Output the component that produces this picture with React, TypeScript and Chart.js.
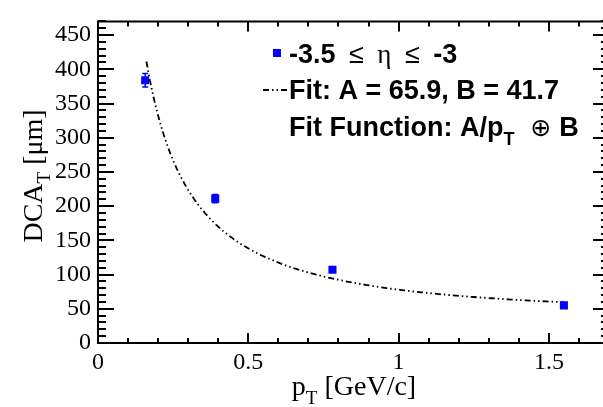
import { useEffect, useRef } from 'react';
import { Chart, registerables } from 'chart.js';

Chart.register(...registerables);

// Measured transverse DCA resolution vs pT
const pT = [0.157, 0.39, 0.78, 1.55];
const dcaT = [384, 211, 107, 55];
const dcaTErr = [10, 6, 3, 2];

// Fit parameters of A/pT (+) B, and the pT range of the fit
const fitA = 65.9;
const fitB = 41.7;
const fitRange = [0.161, 1.55];
const fitSamples = 120;

// Axis ranges and ticks
const xMin = 0;
const xMax = 1.7;
const yMin = 0;
const yMax = 470;
const xTickValues = [0, 0.5, 1, 1.5];
const xTickLabels = ['0', '0.5', '1', '1.5'];
const yTickValues = [0, 50, 100, 150, 200, 250, 300, 350, 400, 450];
const yTickLabels = ['0', '50', '100', '150', '200', '250', '300', '350', '400', '450'];
const xMinorStep = 0.1;
const yMinorStep = 10;

// Legend entries
const etaLow = '-3.5';
const etaHigh = '-3';

const SERIF = '"Liberation Serif", "Times New Roman", serif';
const SANS = '"Liberation Sans", Arial, sans-serif';
const MARKER_BLUE = '#0000ff';

const W = 619;
const H = 407;

type Seg = { t: string; font: string; dy?: number };

function drawSegs(ctx: CanvasRenderingContext2D, segs: Seg[], x: number, y: number, align: 'left' | 'center') {
  let total = 0;
  for (const s of segs) {
    ctx.font = s.font;
    total += ctx.measureText(s.t).width;
  }
  let cx = align === 'center' ? x - total / 2 : x;
  for (const s of segs) {
    ctx.font = s.font;
    ctx.fillText(s.t, cx, y + (s.dy || 0));
    cx += ctx.measureText(s.t).width;
  }
}

// A/pT (+) B : quadrature sum
function fitFn(x: number) {
  const a = fitA / x;
  return Math.sqrt(a * a + fitB * fitB);
}

const fitPoints: { x: number; y: number }[] = [];
for (let i = 0; i <= fitSamples; i++) {
  const x = fitRange[0] + ((fitRange[1] - fitRange[0]) * i) / fitSamples;
  fitPoints.push({ x, y: fitFn(x) });
}

const FIT_DASH = [6, 3, 1.5, 3, 1.5, 3];

const rootStylePlugin = {
  id: 'rootStyle',
  beforeDatasetsDraw(chart: any) {
    const ctx: CanvasRenderingContext2D = chart.ctx;
    const xs = chart.scales.x;
    const ys = chart.scales.y;
    ctx.save();
    ctx.strokeStyle = MARKER_BLUE;
    ctx.lineWidth = 1.5;
    for (let i = 0; i < pT.length; i++) {
      const px = xs.getPixelForValue(pT[i]);
      const top = ys.getPixelForValue(dcaT[i] + dcaTErr[i]);
      const bot = ys.getPixelForValue(dcaT[i] - dcaTErr[i]);
      ctx.beginPath();
      ctx.moveTo(px, top);
      ctx.lineTo(px, bot);
      ctx.moveTo(px - 3, top);
      ctx.lineTo(px + 3, top);
      ctx.moveTo(px - 3, bot);
      ctx.lineTo(px + 3, bot);
      ctx.stroke();
    }
    ctx.restore();
  },
  afterDraw(chart: any) {
    const ctx: CanvasRenderingContext2D = chart.ctx;
    const xs = chart.scales.x;
    const ys = chart.scales.y;
    const { left, right, top, bottom } = chart.chartArea;
    ctx.save();
    ctx.strokeStyle = '#000';
    ctx.lineWidth = 2;
    ctx.beginPath();
    ctx.rect(left, top, right - left, bottom - top);
    ctx.stroke();

    // ticks, pointing inward on all four sides
    ctx.beginPath();
    const nY = Math.round((yMax - yMin) / yMinorStep);
    for (let i = 0; i <= nY; i++) {
      const v = yMin + i * yMinorStep;
      const major = yTickValues.some((t) => Math.abs(t - v) < 1e-6);
      const len = major ? 16 : 8;
      const py = Math.round(ys.getPixelForValue(v));
      ctx.moveTo(left, py);
      ctx.lineTo(left + len, py);
      ctx.moveTo(right, py);
      ctx.lineTo(right - len, py);
    }
    const nX = Math.round((xMax - xMin) / xMinorStep);
    for (let i = 0; i <= nX; i++) {
      const v = xMin + i * xMinorStep;
      const major = xTickValues.some((t) => Math.abs(t - v) < 1e-6);
      const len = major ? 10 : 5;
      const px = Math.round(xs.getPixelForValue(v));
      ctx.moveTo(px, bottom);
      ctx.lineTo(px, bottom - len);
      ctx.moveTo(px, top);
      ctx.lineTo(px, top + len);
    }
    ctx.stroke();

    // axis titles
    ctx.fillStyle = '#000';
    ctx.textBaseline = 'alphabetic';
    drawSegs(
      ctx,
      [
        { t: 'p', font: `28px ${SERIF}` },
        { t: 'T', font: `19px ${SERIF}`, dy: 9 },
        { t: ' [GeV/c]', font: `28px ${SERIF}` },
      ],
      354,
      395,
      'center'
    );
    ctx.save();
    ctx.translate(42, 176);
    ctx.rotate(-Math.PI / 2);
    drawSegs(
      ctx,
      [
        { t: 'DCA', font: `28px ${SERIF}` },
        { t: 'T', font: `19px ${SERIF}`, dy: 8 },
        { t: ' [\u03bcm]', font: `28px ${SERIF}` },
      ],
      0,
      0,
      'center'
    );
    ctx.restore();

    // legend
    const lx = 289;
    const rows = [63, 99, 136];
    const bold = `bold 27px ${SANS}`;
    const reg = `27px ${SANS}`;
    ctx.fillStyle = MARKER_BLUE;
    ctx.fillRect(273, rows[0] - 14, 8, 8);
    ctx.strokeStyle = '#000';
    ctx.lineWidth = 1.8;
    ctx.setLineDash(FIT_DASH);
    ctx.beginPath();
    ctx.moveTo(263, rows[1] - 9);
    ctx.lineTo(287, rows[1] - 9);
    ctx.stroke();
    ctx.setLineDash([]);
    ctx.fillStyle = '#000';
    drawSegs(
      ctx,
      [
        { t: etaLow, font: bold },
        { t: '\u2002\u2264\u2002', font: reg },
        { t: '\u03b7', font: `27px ${SERIF}` },
        { t: '\u2002\u2264\u2002', font: reg },
        { t: etaHigh, font: bold },
      ],
      lx,
      rows[0],
      'left'
    );
    drawSegs(ctx, [{ t: `Fit: A = ${fitA.toFixed(1)}, B = ${fitB.toFixed(1)}`, font: bold }], lx, rows[1], 'left');
    drawSegs(
      ctx,
      [
        { t: 'Fit Function: A/p', font: bold },
        { t: 'T', font: `bold 18px ${SANS}`, dy: 9 },
        { t: '  \u2295 ', font: `25px "DejaVu Sans", sans-serif` },
        { t: 'B', font: bold },
      ],
      lx,
      rows[2],
      'left'
    );
    ctx.restore();
  },
};

export default function App() {
  const ref = useRef<HTMLCanvasElement | null>(null);

  useEffect(() => {
    document.body.style.margin = '0';
    const canvas = ref.current;
    if (!canvas) return;
    const chart = new Chart(canvas, {
      type: 'scatter',
      data: {
        datasets: [
          {
            label: 'fit',
            data: fitPoints,
            showLine: true,
            pointRadius: 0,
            borderColor: '#000',
            borderWidth: 1.8,
            borderDash: FIT_DASH,
            fill: false,
            order: 2,
          },
          {
            label: 'data',
            data: pT.map((x, i) => ({ x, y: dcaT[i] })),
            pointStyle: 'rect',
            pointRadius: 5.7,
            pointBorderWidth: 0,
            backgroundColor: MARKER_BLUE,
            borderColor: MARKER_BLUE,
            showLine: false,
            order: 1,
          },
        ],
      },
      options: {
        animation: false,
        responsive: false,
        maintainAspectRatio: false,
        devicePixelRatio: 1,
        layout: { padding: { top: 7, right: 10, left: 0, bottom: 0 } },
        plugins: { legend: { display: false }, tooltip: { enabled: false } },
        scales: {
          x: {
            type: 'linear',
            min: xMin,
            max: xMax,
            grid: { display: false, drawTicks: false },
            border: { display: false },
            afterBuildTicks: (scale: any) => {
              scale.ticks = xTickValues.map((v) => ({ value: v }));
            },
            afterFit: (scale: any) => {
              scale.height = 64;
            },
            ticks: {
              autoSkip: false,
              maxRotation: 0,
              padding: 5,
              color: '#000',
              font: { family: SERIF, size: 24 },
              callback: (v: any) => xTickLabels[xTickValues.indexOf(Number(v))] ?? '',
            },
          },
          y: {
            type: 'linear',
            min: yMin,
            max: yMax,
            grid: { display: false, drawTicks: false },
            border: { display: false },
            afterBuildTicks: (scale: any) => {
              scale.ticks = yTickValues.map((v) => ({ value: v }));
            },
            afterFit: (scale: any) => {
              scale.width = 98;
            },
            ticks: {
              autoSkip: false,
              padding: 7,
              color: '#000',
              font: { family: SERIF, size: 24 },
              callback: (v: any) => yTickLabels[yTickValues.indexOf(Number(v))] ?? '',
            },
          },
        },
      },
      plugins: [rootStylePlugin],
    });
    return () => chart.destroy();
  }, []);

  return (
    <div style={{ position: 'fixed', left: 0, top: 0, width: 603, height: H, overflow: 'hidden', background: '#fff' }}>
      <canvas ref={ref} width={W} height={H} style={{ display: 'block', width: W, height: H }} />
    </div>
  );
}
